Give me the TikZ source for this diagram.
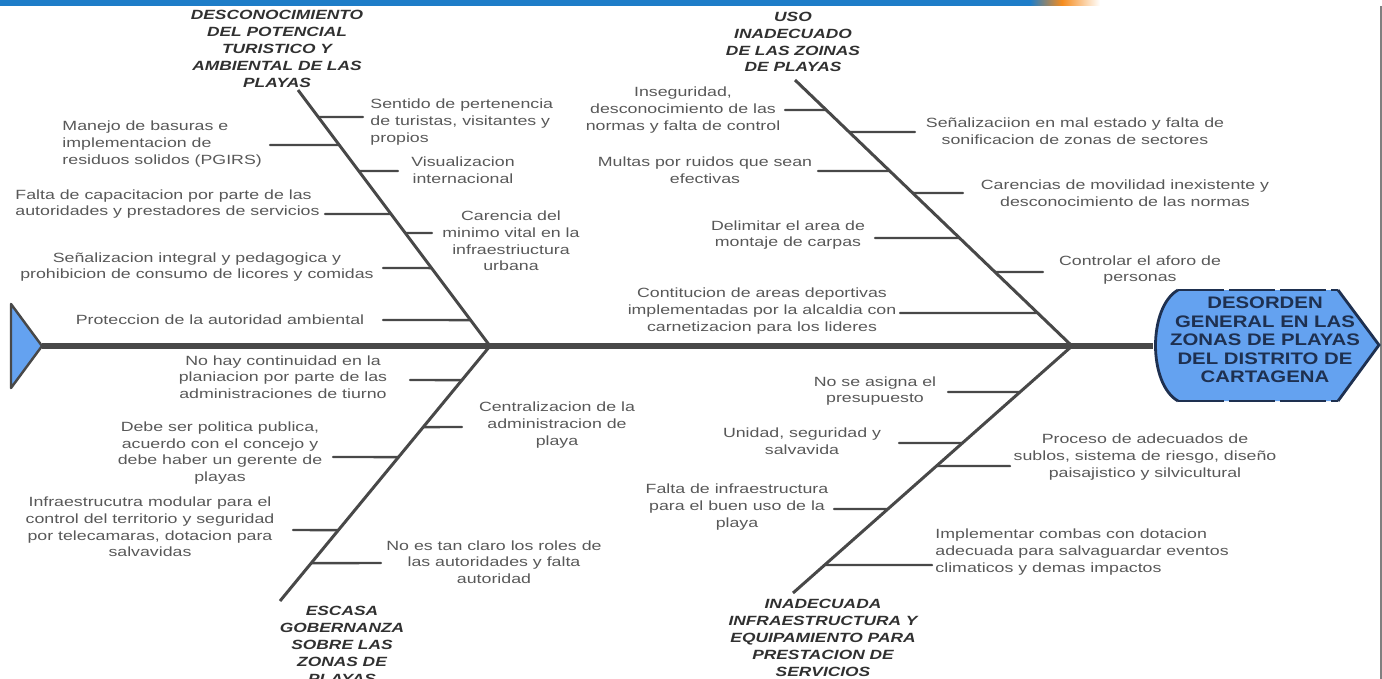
\documentclass[tikz,border=0pt]{standalone}
\usepackage{fontspec}
\setmainfont{Liberation Sans}
\definecolor{bonegray}{RGB}{72,72,72}
\definecolor{txtgray}{RGB}{88,88,88}
\definecolor{catgray}{RGB}{48,48,48}
\definecolor{headblue}{RGB}{100,162,240}
\definecolor{headnavy}{RGB}{30,48,80}
\definecolor{bannerblue}{RGB}{30,125,200}
\definecolor{bannerorange}{RGB}{245,140,30}

\begin{document}
\begin{tikzpicture}[x=0.02cm,y=-0.02cm]
\tikzset{lbl/.style={align=center,text=txtgray,inner sep=0pt,xscale=1.33,font=\fontsize{7.6}{9.5}\selectfont}}
\tikzset{cat/.style={align=center,text=catgray,inner sep=0pt,xscale=1.3,font=\fontsize{7.6}{9.6}\selectfont\bfseries\itshape}}
\tikzset{rib/.style={draw=bonegray,line width=1.4pt,line cap=round}}
\tikzset{bone/.style={draw=bonegray,line width=1.7pt}}
\tikzset{spine/.style={draw=bonegray,line width=3.4pt}}
\tikzset{headedge/.style={draw=headnavy,line width=1.6pt}}
\useasboundingbox (0,0) rectangle (1382,679);
%
% slide header and edge
\fill[bannerblue] (0,0) rectangle (1030,6);
\shade[left color=bannerblue,right color=bannerorange] (1030,0) rectangle (1062,6);
\shade[left color=bannerorange,right color=white] (1062,0) rectangle (1100,6);
\draw[gray,line width=0.6pt] (1381,6) -- (1381,679);
%
% tail, spine and head
\coordinate (tail) at (42,346);
\coordinate (j1) at (490,346);
\coordinate (j2) at (1072,346);
\coordinate (headw) at (1153,346);
\filldraw[fill=headblue,draw=bonegray,line width=1.4pt,line join=round] (11,304) -- (tail) -- (11,388) -- cycle;
\draw[spine] (tail) -- (j1) -- (j2) -- (headw);
\fill[headblue] (1178,290) -- (1338,290) -- (1379,345) -- (1338,401) -- (1178,401) .. controls (1148,384) and (1148,307) .. cycle;
\draw[headedge] (1178,401) .. controls (1148,384) and (1148,307) .. (1178,290);
\draw[headedge] (1338,290) -- (1379,345) -- (1338,401);
\draw[headedge,dash pattern=on 26pt off 3pt] (1178,290) -- (1338,290);
\draw[headedge,dash pattern=on 26pt off 3pt] (1178,401) -- (1338,401);
\node[align=center,text=headnavy,inner sep=0pt,xscale=1.22,font=\fontsize{9.5}{10.5}\selectfont\bfseries] (head) at (1265,340) {DESORDEN\\GENERAL EN LAS\\ZONAS DE PLAYAS\\DEL DISTRITO DE\\CARTAGENA};
%
% bones
\coordinate (t1) at (298,90);
\coordinate (t2) at (795,80);
\coordinate (t3) at (280,601);
\coordinate (t4) at (793,593);
\draw[bone] (t1) -- (j1);
\draw[bone] (t2) -- (j2);
\draw[bone] (j1) -- (t3);
\draw[bone] (j2) -- (t4);
\node[cat] (c1) at (277,49) {DESCONOCIMIENTO\\DEL POTENCIAL\\TURISTICO Y\\AMBIENTAL DE LAS\\PLAYAS};
\node[cat] (c2) at (793,42) {USO\\INADECUADO\\DE LAS ZOINAS\\DE PLAYAS};
\node[cat] (c3) at (342,645) {ESCASA\\GOBERNANZA\\SOBRE LAS\\ZONAS DE\\PLAYAS};
\node[cat] (c4) at (823,638) {INADECUADA\\INFRAESTRUCTURA Y\\EQUIPAMIENTO PARA\\PRESTACION DE\\SERVICIOS};
%
% desconocimiento del potencial
\coordinate (e11) at (363,117);
\coordinate (e12) at (398,171);
\coordinate (e13) at (432,233);
\coordinate (e14) at (270,145);
\coordinate (e15) at (325,214);
\coordinate (e16) at (383,268);
\coordinate (e17) at (383,320);
\coordinate (b11) at (intersection of t1--j1 and e11--0,117);
\coordinate (b12) at (intersection of t1--j1 and e12--0,171);
\coordinate (b13) at (intersection of t1--j1 and e13--0,233);
\coordinate (b14) at (intersection of t1--j1 and e14--0,145);
\coordinate (b15) at (intersection of t1--j1 and e15--0,214);
\coordinate (b16) at (intersection of t1--j1 and e16--0,268);
\coordinate (b17) at (intersection of t1--j1 and e17--0,320);
\draw[rib] (b11) -- (e11);
\draw[rib] (b12) -- (e12);
\draw[rib] (b13) -- (e13);
\draw[rib] (b14) -- (e14);
\draw[rib] (b15) -- (e15);
\draw[rib] (b16) -- (e16);
\draw[rib] (b17) -- (e17);
\node[lbl,align=left,anchor=west] (l1) at (370,122) {Sentido de pertenencia\\de turistas, visitantes y\\propios};
\node[lbl] (l2) at (463,170) {Visualizacion\\internacional};
\node[lbl] (l3) at (511,241) {Carencia del\\minimo vital en la\\infraestriuctura\\urbana};
\node[lbl,align=left,anchor=west] (l4) at (62,144) {Manejo de basuras e\\implementacion de\\residuos solidos (PGIRS)};
\node[lbl,align=left,anchor=west] (l5) at (15,204) {Falta de capacitacion por parte de las\\autoridades y prestadores de servicios};
\node[lbl] (l6) at (197,267) {Señalizacion integral y pedagogica y\\prohibicion de consumo de licores y comidas};
\node[lbl] (l7) at (220,320) {Proteccion de la autoridad ambiental};
%
% uso inadecuado
\coordinate (e21) at (785,110);
\coordinate (e22) at (818,171);
\coordinate (e23) at (875,238);
\coordinate (e24) at (900,313);
\coordinate (e25) at (915,132);
\coordinate (e26) at (963,193);
\coordinate (e27) at (1043,272);
\coordinate (b21) at (intersection of t2--j2 and e21--0,110);
\coordinate (b22) at (intersection of t2--j2 and e22--0,171);
\coordinate (b23) at (intersection of t2--j2 and e23--0,238);
\coordinate (b24) at (intersection of t2--j2 and e24--0,313);
\coordinate (b25) at (intersection of t2--j2 and e25--0,132);
\coordinate (b26) at (intersection of t2--j2 and e26--0,193);
\coordinate (b27) at (intersection of t2--j2 and e27--0,272);
\draw[rib] (b21) -- (e21);
\draw[rib] (b22) -- (e22);
\draw[rib] (b23) -- (e23);
\draw[rib] (b24) -- (e24);
\draw[rib] (b25) -- (e25);
\draw[rib] (b26) -- (e26);
\draw[rib] (b27) -- (e27);
\node[lbl] (m1) at (683,110) {Inseguridad,\\desconocimiento de las\\normas y falta de control};
\node[lbl] (m2) at (705,170) {Multas por ruidos que sean\\efectivas};
\node[lbl] (m3) at (788,235) {Delimitar el area de\\montaje de carpas};
\node[lbl] (m4) at (762,311) {Contitucion de areas deportivas\\implementadas por la alcaldia con\\carnetizacion para los lideres};
\node[lbl] (m5) at (1075,131) {Señalizaciion en mal estado y falta de\\sonificacion de zonas de sectores};
\node[lbl] (m6) at (1125,193) {Carencias de movilidad inexistente y\\desconocimiento de las normas};
\node[lbl] (m7) at (1140,270) {Controlar el aforo de\\personas};
%
% escasa gobernanza
\coordinate (e31) at (410,380);
\coordinate (e32) at (333,457);
\coordinate (e33) at (293,530);
\coordinate (e34) at (462,427);
\coordinate (e35) at (381,563);
\coordinate (b31) at (intersection of j1--t3 and e31--0,380);
\coordinate (b32) at (intersection of j1--t3 and e32--0,457);
\coordinate (b33) at (intersection of j1--t3 and e33--0,530);
\coordinate (b34) at (intersection of j1--t3 and e34--0,427);
\coordinate (b35) at (intersection of j1--t3 and e35--0,563);
\draw[rib] (b31) -- (e31);
\draw[rib] (b32) -- (e32);
\draw[rib] (b33) -- (e33);
\draw[rib] (b34) -- (e34);
\draw[rib] (b35) -- (e35);
\node[lbl] (n1) at (283,377) {No hay continuidad en la\\planiacion por parte de las\\administraciones de tiurno};
\node[lbl] (n2) at (220,453) {Debe ser politica publica,\\acuerdo con el concejo y\\debe haber un gerente de\\playas};
\node[lbl] (n3) at (150,527) {Infraestrucutra modular para el\\control del territorio y seguridad\\por telecamaras, dotacion para\\salvavidas};
\node[lbl] (n4) at (557,425) {Centralizacion de la\\administracion de\\playa};
\node[lbl] (n5) at (494,562) {No es tan claro los roles de\\las autoridades y falta\\autoridad};
%
% inadecuada infraestructura
\coordinate (e41) at (948,392);
\coordinate (e42) at (899,443);
\coordinate (e43) at (834,509);
\coordinate (e44) at (1010,466);
\coordinate (e45) at (932,565);
\coordinate (b41) at (intersection of j2--t4 and e41--0,392);
\coordinate (b42) at (intersection of j2--t4 and e42--0,443);
\coordinate (b43) at (intersection of j2--t4 and e43--0,509);
\coordinate (b44) at (intersection of j2--t4 and e44--0,466);
\coordinate (b45) at (intersection of j2--t4 and e45--0,565);
\draw[rib] (b41) -- (e41);
\draw[rib] (b42) -- (e42);
\draw[rib] (b43) -- (e43);
\draw[rib] (b44) -- (e44);
\draw[rib] (b45) -- (e45);
\node[lbl] (o1) at (875,391) {No se asigna el\\presupuesto};
\node[lbl] (o2) at (802,441) {Unidad, seguridad y\\salvavida};
\node[lbl] (o3) at (737,507) {Falta de infraestructura\\para el buen uso de la\\playa};
\node[lbl] (o4) at (1145,457) {Proceso de adecuados de\\sublos, sistema de riesgo, diseño\\paisajistico y silvicultural};
\node[lbl,align=left,anchor=west] (o5) at (935,552) {Implementar combas con dotacion\\adecuada para salvaguardar eventos\\climaticos y demas impactos};
\end{tikzpicture}
\end{document}
